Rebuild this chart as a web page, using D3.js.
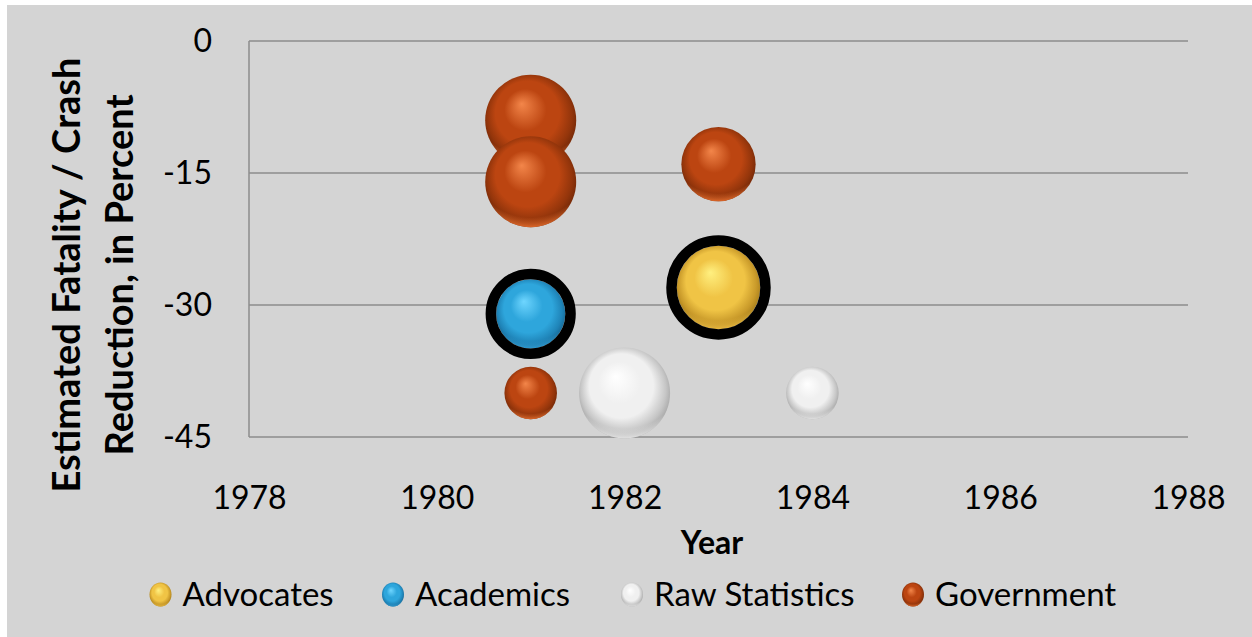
<!DOCTYPE html>
<html>
<head>
<meta charset="utf-8">
<script src="https://cdn.jsdelivr.net/npm/d3@7"></script>
<style>
  html, body { margin: 0; padding: 0; background: #ffffff; }
  svg { display: block; }
  text { font-family: Lato, "Open Sans", "Liberation Sans", sans-serif; fill: #000; }
</style>
</head>
<body>
<svg id="chart" width="1252" height="637"></svg>
<script>
// ---- data ----
const categories = ["Advocates", "Academics", "Raw Statistics", "Government"];
const advocatesYears = [1983];
const advocatesValues = [-28];
const advocatesSizes = [3.2];
const academicsYears = [1981];
const academicsValues = [-31];
const academicsSizes = [2.3];
const rawYears = [1982, 1984];
const rawValues = [-40, -40];
const rawSizes = [3, 1];
const govYears = [1981, 1981, 1983, 1981];
const govValues = [-9, -16, -14, -40];
const govSizes = [3, 3, 2, 1];
const xTicks = [1978, 1980, 1982, 1984, 1986, 1988];
const yTicks = [0, -15, -30, -45];
const xTitle = "Year";
const yTitleLines = ["Estimated Fatality / Crash", "Reduction, in Percent"];

// ---- styles ----
const palettes = {
  "Advocates":      {hi: "#fff080", mid: "#f0c445", dark: "#c99a2a", edge: "#9a7415", rim: "#e8b840"},
  "Academics":      {hi: "#6fd6ff", mid: "#2ea6dc", dark: "#1f84b8", edge: "#135e88", rim: "#2e9ad0"},
  "Raw Statistics": {hi: "#ffffff", mid: "#f0f0f0", dark: "#c6c6c6", edge: "#9c9c9c", rim: "#e2e2e2"},
  "Government":     {hi: "#f3864a", mid: "#bc4511", dark: "#93350b", edge: "#682406", rim: "#de682a"}
};
const ringed = {"Advocates": true, "Academics": true};

const series = [
  {name: "Advocates", years: advocatesYears, values: advocatesValues, sizes: advocatesSizes},
  {name: "Academics", years: academicsYears, values: academicsValues, sizes: academicsSizes},
  {name: "Raw Statistics", years: rawYears, values: rawValues, sizes: rawSizes},
  {name: "Government", years: govYears, values: govValues, sizes: govSizes}
];

const W = 1252, H = 637;
const svg = d3.select("#chart");
svg.append("rect").attr("x", 7).attr("y", 5).attr("width", W - 7).attr("height", H - 5).attr("fill", "#d4d4d4");

const plot = {left: 249, right: 1188, top: 41, bottom: 437};
const x = d3.scaleLinear().domain([1978, 1988]).range([plot.left, plot.right]);
const y = d3.scaleLinear().domain([0, -45]).range([plot.top, plot.bottom]);
const allSizes = [].concat(advocatesSizes, academicsSizes, rawSizes, govSizes);
const r = d3.scaleSqrt().domain([0, d3.max(allSizes)]).range([0, 47]);

// gradients
const defs = svg.append("defs");
categories.forEach((c, i) => {
  const p = palettes[c];
  const g = defs.append("radialGradient").attr("id", "sph" + i)
    .attr("cx", "50%").attr("cy", "48%").attr("r", "55%")
    .attr("fx", "40%").attr("fy", "32%");
  g.append("stop").attr("offset", "0%").attr("stop-color", p.hi);
  g.append("stop").attr("offset", "42%").attr("stop-color", p.mid);
  g.append("stop").attr("offset", "64%").attr("stop-color", p.mid);
  g.append("stop").attr("offset", "85%").attr("stop-color", p.dark);
  g.append("stop").attr("offset", "100%").attr("stop-color", p.edge);
  const rim = defs.append("radialGradient").attr("id", "rim" + i)
    .attr("cx", "50%").attr("cy", "22%").attr("r", "80%");
  rim.append("stop").attr("offset", "0%").attr("stop-color", p.rim).attr("stop-opacity", 0);
  rim.append("stop").attr("offset", "84%").attr("stop-color", p.rim).attr("stop-opacity", 0);
  rim.append("stop").attr("offset", "97%").attr("stop-color", p.rim).attr("stop-opacity", 0.95);
});

// gridlines
svg.append("g").selectAll("line").data(yTicks).join("line")
  .attr("x1", plot.left).attr("x2", plot.right)
  .attr("y1", d => y(d)).attr("y2", d => y(d))
  .attr("stroke", "#8c8c8c").attr("stroke-width", 1.5);
// y axis line
svg.append("line").attr("x1", plot.left).attr("x2", plot.left)
  .attr("y1", y(0)).attr("y2", y(-45)).attr("stroke", "#8c8c8c").attr("stroke-width", 1.5);

// axes labels via d3 axes
const fmt = d => String(d);
const yAxis = svg.append("g").attr("transform", `translate(${plot.left},0)`)
  .call(d3.axisLeft(y).tickValues(yTicks).tickSize(0).tickPadding(37).tickFormat(fmt));
yAxis.select(".domain").remove();
yAxis.selectAll("text").attr("font-size", 32).style("font-family", "Lato, sans-serif").attr("fill", "#000");

const xAxis = svg.append("g").attr("transform", `translate(0,${plot.bottom})`)
  .call(d3.axisBottom(x).tickValues(xTicks).tickSize(0).tickPadding(49).tickFormat(fmt));
xAxis.select(".domain").remove();
xAxis.selectAll("text").attr("font-size", 32).style("font-family", "Lato, sans-serif").attr("fill", "#000");

// titles
svg.append("text").attr("x", 712).attr("y", 554).attr("text-anchor", "middle")
  .attr("font-size", 32).attr("font-weight", "bold").text(xTitle);
const yt = svg.append("text").attr("transform", "translate(0,275) rotate(-90)")
  .attr("text-anchor", "middle").attr("font-size", 38).attr("font-weight", "bold");
yt.append("tspan").attr("x", 0).attr("y", 80).text(yTitleLines[0]);
yt.append("tspan").attr("x", 0).attr("y", 133).text(yTitleLines[1]);

// bubbles
const RING = 10.5;
series.forEach(s => {
  const i = categories.indexOf(s.name);
  const pts = s.years.map((yr, k) => ({yr, v: s.values[k], sz: s.sizes[k]}));
  const g = svg.append("g");
  pts.forEach(d => {
    const rad = r(d.sz);
    const inner = ringed[s.name] ? rad - RING / 2 : rad;
    g.append("circle").attr("cx", x(d.yr)).attr("cy", y(d.v)).attr("r", inner).attr("fill", `url(#sph${i})`);
    g.append("circle").attr("cx", x(d.yr)).attr("cy", y(d.v)).attr("r", inner).attr("fill", `url(#rim${i})`);
    if (ringed[s.name]) {
      g.append("circle").attr("cx", x(d.yr)).attr("cy", y(d.v)).attr("r", rad)
        .attr("fill", "none").attr("stroke", "#000").attr("stroke-width", RING);
    }
  });
});

// legend
const legendX = [160.5, 393, 632, 913];
const legend = svg.append("g");
categories.forEach((c, i) => {
  const lg = legend.append("g").attr("transform", `translate(${legendX[i]},594.5)`);
  lg.append("ellipse").attr("rx", 11).attr("ry", 12).attr("fill", `url(#sph${i})`);
  lg.append("ellipse").attr("rx", 11).attr("ry", 12).attr("fill", `url(#rim${i})`);
  lg.append("text").attr("x", 22).attr("y", 11.5).attr("font-size", 33).text(c);
});
</script>
</body>
</html>
